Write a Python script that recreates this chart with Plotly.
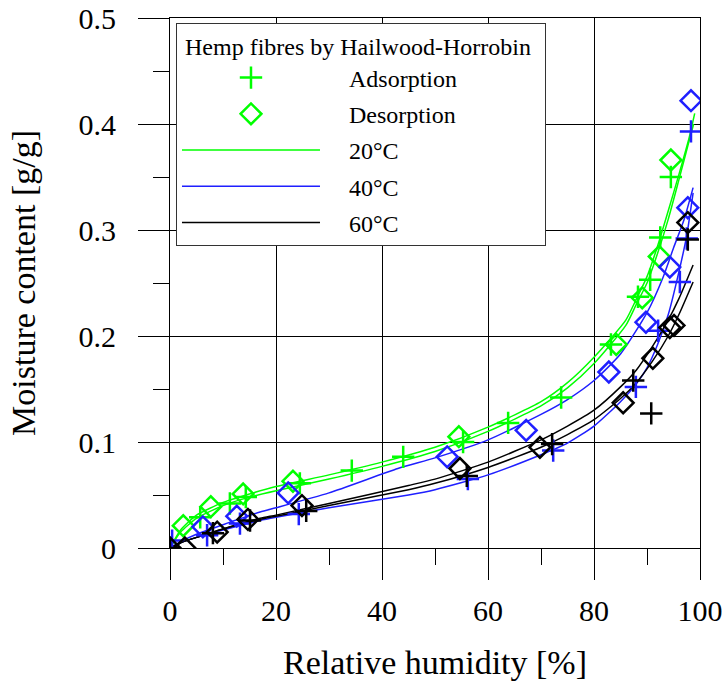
import plotly.graph_objects as go

# ---- measured sorption points: relative humidity [%], moisture content [g/g] ----
ads20_rh = [5.7, 11.3, 14.3, 24.5, 34.3, 44.0, 55.3, 63.8, 73.8, 83.2, 88.3, 90.6, 92.5, 94.5]
ads20_mc = [0.029, 0.042, 0.048, 0.061, 0.073, 0.086, 0.100, 0.118, 0.142, 0.192, 0.237, 0.253, 0.293, 0.350]
des20_rh = [2.5, 7.7, 13.8, 23.2, 54.5, 84.2, 89.1, 92.3, 94.5]
des20_mc = [0.021, 0.039, 0.051, 0.063, 0.105, 0.192, 0.236, 0.275, 0.366]

ads40_rh = [0.4, 7.0, 13.2, 24.3, 56.2, 72.3, 87.9, 92.1, 96.2, 97.5, 98.3]
ads40_mc = [0.007, 0.012, 0.023, 0.032, 0.065, 0.092, 0.152, 0.205, 0.251, 0.292, 0.393]
des40_rh = [6.2, 12.6, 22.3, 52.3, 67.2, 82.8, 89.8, 94.3, 97.7, 98.3]
des40_mc = [0.020, 0.030, 0.052, 0.086, 0.111, 0.166, 0.213, 0.265, 0.321, 0.422]

ads60_rh = [0.0, 8.1, 15.1, 25.7, 56.0, 72.1, 87.4, 90.8, 97.7]
ads60_mc = [0.000, 0.014, 0.026, 0.035, 0.068, 0.098, 0.158, 0.127, 0.291]
des60_rh = [0.0, 2.8, 8.9, 14.7, 24.9, 54.7, 69.8, 85.5, 91.1, 94.3, 95.1, 97.7]
des60_mc = [0.000, 0.000, 0.015, 0.027, 0.040, 0.075, 0.095, 0.137, 0.179, 0.208, 0.210, 0.307]

# ---- Hailwood-Horrobin model curves (desorption / adsorption branch per temperature) ----
hh20_des_rh = [0, 2, 5, 10, 15, 20, 30, 40, 50, 60, 70, 75, 80, 86, 88, 90, 92, 94, 96, 98, 99]
hh20_des_mc = [0, 0.017, 0.031, 0.043, 0.051, 0.058, 0.069, 0.081, 0.095, 0.114, 0.138, 0.156,
               0.180, 0.215, 0.235, 0.256, 0.285, 0.318, 0.352, 0.388, 0.410]
hh20_ads_rh = [0, 2, 5, 10, 15, 20, 30, 40, 50, 60, 70, 75, 80, 86, 88, 90, 92, 94, 96, 98, 98.8]
hh20_ads_mc = [0, 0.015, 0.028, 0.040, 0.048, 0.054, 0.065, 0.077, 0.091, 0.110, 0.134, 0.151,
               0.174, 0.210, 0.230, 0.250, 0.278, 0.310, 0.347, 0.385, 0.400]

hh40_des_rh = [0, 2, 5, 10, 17, 20, 30, 43, 50, 60, 70, 75, 80, 85, 90, 93, 95, 97, 98.7]
hh40_des_mc = [0, 0.006, 0.013, 0.022, 0.034, 0.038, 0.052, 0.075, 0.085, 0.102, 0.126, 0.140,
               0.158, 0.183, 0.222, 0.255, 0.283, 0.310, 0.340]
hh40_ads_rh = [0, 2, 5, 10, 17, 20, 30, 45, 50, 60, 70, 75, 80, 85, 88, 90, 92, 94, 96, 97.5, 98.7]
hh40_ads_mc = [0, 0.005, 0.010, 0.017, 0.026, 0.029, 0.038, 0.050, 0.055, 0.069, 0.088, 0.099,
               0.115, 0.138, 0.155, 0.170, 0.192, 0.220, 0.260, 0.295, 0.335]

hh60_des_rh = [0, 2, 5, 10, 17, 20, 30, 45, 50, 60, 70, 75, 80, 85, 88, 91, 94, 96, 98.7]
hh60_des_mc = [0, 0.005, 0.010, 0.018, 0.028, 0.031, 0.042, 0.059, 0.065, 0.081, 0.102, 0.115,
               0.130, 0.152, 0.168, 0.190, 0.215, 0.235, 0.267]
hh60_ads_rh = [0, 2, 5, 10, 17, 20, 30, 45, 50, 60, 70, 75, 80, 85, 88, 91, 94, 96, 98.7]
hh60_ads_mc = [0, 0.005, 0.010, 0.018, 0.027, 0.030, 0.040, 0.055, 0.061, 0.076, 0.095, 0.107,
               0.121, 0.141, 0.156, 0.176, 0.200, 0.220, 0.251]

x_ticks = [0, 20, 40, 60, 80, 100]
y_ticks = [0, 0.1, 0.2, 0.3, 0.4, 0.5]
y_tick_text = ["0", "0.1", "0.2", "0.3", "0.4", "0.5"]

GREEN = "#00ff00"
BLUE = "#1f1fff"
BLACK = "#000000"
FONT = "Liberation Serif"
PAD = "\u00a0" * 4  # gap between legend key and its label
NB = "\u00a0"

fig = go.Figure()

curves = [
    (hh20_des_rh, hh20_des_mc, GREEN, "20°C", True, 3),
    (hh20_ads_rh, hh20_ads_mc, GREEN, "20°C", False, 0),
    (hh40_des_rh, hh40_des_mc, BLUE, "40°C", True, 4),
    (hh40_ads_rh, hh40_ads_mc, BLUE, "40°C", False, 0),
    (hh60_des_rh, hh60_des_mc, BLACK, "60°C", True, 5),
    (hh60_ads_rh, hh60_ads_mc, BLACK, "60°C", False, 0),
]
for rh, mc, col, name, show, rank in curves:
    fig.add_trace(go.Scatter(
        x=rh, y=mc, mode="lines", name=PAD + name, showlegend=show,
        legendrank=rank if rank else 1000, legendgroup=name,
        line=dict(color=col, width=1.5, shape="spline", smoothing=0.6),
    ))

marker_sets = [
    (ads20_rh, ads20_mc, GREEN, "cross-thin-open", "Adsorption", True, 1),
    (des20_rh, des20_mc, GREEN, "diamond-open", "Desorption", True, 2),
    (ads40_rh, ads40_mc, BLUE, "cross-thin-open", "Adsorption 40", False, 0),
    (des40_rh, des40_mc, BLUE, "diamond-open", "Desorption 40", False, 0),
    (ads60_rh, ads60_mc, BLACK, "cross-thin-open", "Adsorption 60", False, 0),
    (des60_rh, des60_mc, BLACK, "diamond-open", "Desorption 60", False, 0),
]
for rh, mc, col, sym, name, show, rank in marker_sets:
    fig.add_trace(go.Scatter(
        x=rh, y=mc, mode="markers", name=PAD + name, showlegend=show,
        legendrank=rank if rank else 1000, legendgroup=name,
        marker=dict(symbol=sym, size=16, color=col, line=dict(color=col, width=2.5)),
    ))

axis_common = dict(
    showgrid=True, gridcolor="black", gridwidth=1,
    showline=True, linecolor="black", linewidth=1, mirror=True,
    zeroline=False, ticks="outside", ticklen=31, tickcolor="black", tickwidth=1,
    tickfont=dict(family=FONT, size=30, color="black"),
    automargin=False,
)

fig.update_xaxes(
    range=[0, 100], tickvals=x_ticks,
    minor=dict(dtick=10, ticks="outside", ticklen=16, tickcolor="black", showgrid=False),
    ticklabelstandoff=5,
    title=dict(text="Relative humidity [%]", font=dict(family=FONT, size=34, color="black"), standoff=24),
    **axis_common,
)
fig.update_yaxes(
    range=[0, 0.5], tickvals=y_ticks, ticktext=y_tick_text,
    minor=dict(dtick=0.05, ticks="outside", ticklen=16, tickcolor="black", showgrid=False),
    ticklabelstandoff=16,
    title=dict(text="Moisture content [g/g]", font=dict(family=FONT, size=34, color="black"), standoff=32),
    **axis_common,
)

fig.update_layout(
    width=726, height=686,
    margin=dict(l=170, r=26, t=18, b=138, autoexpand=False),
    paper_bgcolor="white", plot_bgcolor="white",
    font=dict(family=FONT, color="black"),
    legend=dict(
        x=0.0113, y=0.99, xanchor="left", yanchor="top",
        bgcolor="white", bordercolor="#333333", borderwidth=1,
        font=dict(family=FONT, size=24, color="black"),
        title=dict(text=NB + "Hemp fibres by Hailwood-Horrobin" + NB + NB,
                   font=dict(family=FONT, size=24, color="black")),
        itemwidth=138, traceorder="grouped", tracegroupgap=2,
    ),
)

fig.write_html("out.html")
